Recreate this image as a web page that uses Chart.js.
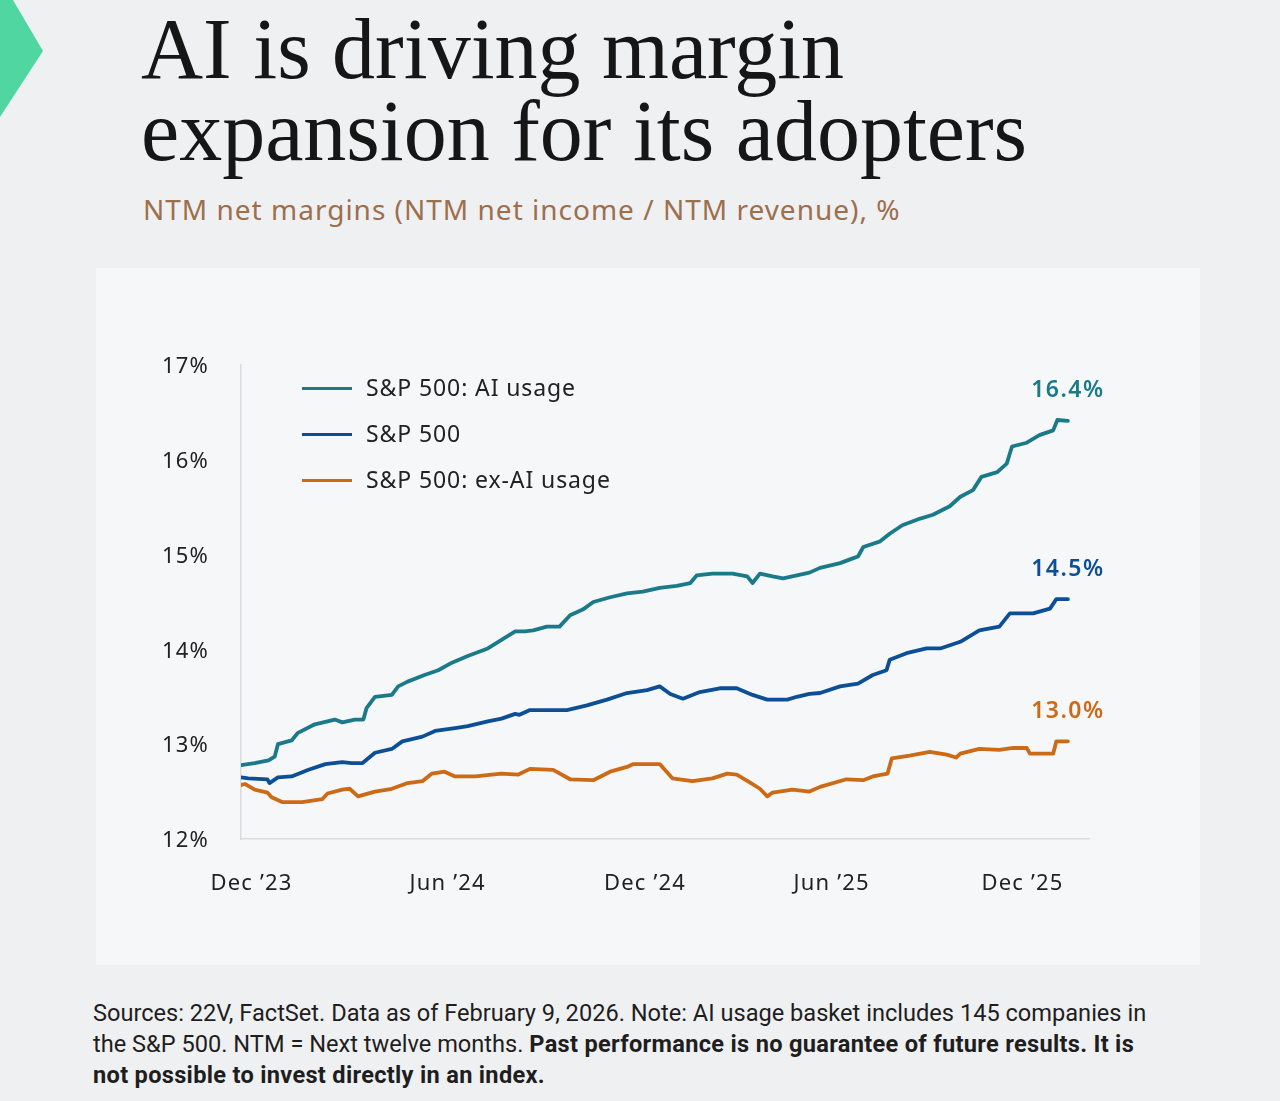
<!DOCTYPE html>
<html lang="en">
<head>
<meta charset="UTF-8">
<title>AI margin expansion</title>
<script src="https://cdn.jsdelivr.net/npm/chart.js@4.4.1/dist/chart.umd.min.js"></script>
<style>
  body { margin: 0; width: 1280px; height: 1101px; background: #eff0f2; position: relative; overflow: hidden; font-family: "Noto Sans", sans-serif; }
  .arrow { position: absolute; left: 0; top: 0; width: 46px; height: 118px; background: #50d7a1; clip-path: polygon(0 0, 13px 0, 43px 51px, 0 117px); }
  .title { position: absolute; left: 141px; top: 8px; font-family: "Liberation Serif", serif; font-size: 86px; line-height: 82px; color: #161616; margin: 0; font-weight: normal; }
  .subtitle { position: absolute; left: 143px; top: 190px; font-size: 28px; line-height: 38px; letter-spacing: 1px; color: #9c6f4d; }
  .panel { position: absolute; left: 96px; top: 268px; width: 1104px; height: 697px; background: #f6f7f9; }
  .legend { position: absolute; left: 302px; font-size: 23px; letter-spacing: 0.9px; color: #222; line-height: 30px; }
  .legend span { display: inline-block; width: 50px; height: 3px; vertical-align: middle; margin-right: 14px; position: relative; top: -1px; }
  .footer { position: absolute; left: 93px; top: 998px; font-family: "Roboto", sans-serif; font-size: 23.6px; line-height: 31px; color: #1e1e1e; }
  .footer b { font-weight: 700; letter-spacing: 0.3px; }
</style>
</head>
<body>
  <div class="arrow"></div>
  <h1 class="title">AI is driving margin<br>expansion for its adopters</h1>
  <div class="subtitle">NTM net margins (NTM net income / NTM revenue), %</div>

  <div class="panel">
    <canvas id="marginChart"></canvas>
  </div>

  <!-- legend -->
  <div class="legend" style="top:372px"><span style="background:#1a7a8a"></span>S&amp;P 500: AI usage</div>
  <div class="legend" style="top:418px"><span style="background:#0d4f96"></span>S&amp;P 500</div>
  <div class="legend" style="top:464px"><span style="background:#cc6a16"></span>S&amp;P 500: ex-AI usage</div>

  <div class="footer">Sources: 22V, FactSet. Data as of February 9, 2026. Note: AI usage basket includes 145 companies in<br>the S&amp;P 500. NTM = Next twelve months. <b>Past performance is no guarantee of future results. It is<br>not possible to invest directly in an index.</b></div>

<script>
// x values are days since the start of the series (late Nov 2023)
const seriesNames = ['S&P 500: AI usage', 'S&P 500', 'S&P 500: ex-AI usage'];
const seriesColors = ['#1a7a8a', '#0d4f96', '#cc6a16'];

const aiDays = [0, 13, 26, 32, 35, 48, 54, 70, 89, 96, 108, 116, 119, 127, 143, 149, 158, 174, 187, 200, 215, 234, 247, 260, 269, 277, 290, 302, 312, 324, 334, 350, 366, 381, 397, 413, 426, 432, 447, 466, 480, 485, 492, 504, 514, 527, 539, 549, 568, 580, 585, 590, 606, 615, 627, 644, 656, 672, 682, 694, 702, 717, 726, 731, 745, 757, 770, 774, 784];
const aiVals = [12.78, 12.80, 12.83, 12.87, 13.00, 13.04, 13.12, 13.21, 13.26, 13.23, 13.26, 13.26, 13.38, 13.50, 13.52, 13.61, 13.66, 13.73, 13.78, 13.86, 13.93, 14.01, 14.10, 14.19, 14.19, 14.20, 14.24, 14.24, 14.36, 14.42, 14.50, 14.55, 14.59, 14.61, 14.65, 14.67, 14.70, 14.78, 14.80, 14.80, 14.77, 14.70, 14.80, 14.77, 14.75, 14.78, 14.81, 14.86, 14.91, 14.96, 14.98, 15.08, 15.14, 15.22, 15.31, 15.38, 15.42, 15.51, 15.61, 15.68, 15.82, 15.87, 15.96, 16.14, 16.18, 16.26, 16.31, 16.42, 16.41];

const spDays = [0, 7, 25, 27, 35, 48, 64, 80, 96, 105, 115, 127, 143, 153, 172, 184, 203, 215, 234, 247, 260, 264, 274, 309, 328, 347, 366, 385, 397, 407, 419, 435, 454, 470, 485, 499, 518, 527, 539, 549, 568, 585, 599, 612, 615, 631, 650, 663, 682, 700, 719, 729, 751, 767, 773, 784];
const spVals = [12.65, 12.64, 12.63, 12.59, 12.65, 12.66, 12.73, 12.79, 12.81, 12.80, 12.80, 12.91, 12.95, 13.03, 13.08, 13.14, 13.17, 13.19, 13.24, 13.27, 13.32, 13.31, 13.36, 13.36, 13.41, 13.47, 13.54, 13.57, 13.61, 13.53, 13.48, 13.55, 13.59, 13.59, 13.52, 13.47, 13.47, 13.50, 13.53, 13.54, 13.61, 13.64, 13.73, 13.78, 13.89, 13.96, 14.01, 14.01, 14.08, 14.20, 14.24, 14.38, 14.38, 14.43, 14.53, 14.53];

const exDays = [0, 4, 13, 25, 29, 39, 58, 77, 82, 96, 103, 111, 127, 143, 158, 172, 181, 193, 203, 222, 247, 263, 274, 296, 312, 334, 350, 366, 372, 397, 409, 428, 447, 461, 470, 482, 492, 499, 504, 523, 539, 549, 574, 590, 599, 613, 617, 634, 653, 669, 678, 682, 700, 719, 732, 745, 748, 770, 773, 784];
const exVals = [12.57, 12.58, 12.52, 12.49, 12.44, 12.39, 12.39, 12.42, 12.48, 12.52, 12.53, 12.45, 12.50, 12.53, 12.59, 12.61, 12.69, 12.71, 12.66, 12.66, 12.69, 12.68, 12.74, 12.73, 12.63, 12.62, 12.71, 12.76, 12.79, 12.79, 12.64, 12.61, 12.64, 12.69, 12.68, 12.60, 12.53, 12.45, 12.49, 12.52, 12.50, 12.55, 12.63, 12.62, 12.66, 12.69, 12.85, 12.88, 12.92, 12.89, 12.86, 12.90, 12.95, 12.94, 12.96, 12.96, 12.90, 12.90, 13.03, 13.03];

const tickDays = [10, 196, 383, 560, 741];
const tickLabels = ['Dec \u201923', 'Jun \u201924', 'Dec \u201924', 'Jun \u201925', 'Dec \u201925'];

const yTicks = [12, 13, 14, 15, 16, 17];

function toPoints(days, vals) {
    return days.map((d, i) => ({ x: d, y: vals[i] }));
}

// a bit of tracking on the axis text, like the original
const spacingPlugin = {
    id: 'spacing',
    beforeDraw(chart) { chart.ctx.letterSpacing = '1.2px'; }
};

// value labels above the last point of each line
const endLabelPlugin = {
    id: 'endLabels',
    afterDatasetsDraw(chart) {
        const ctx = chart.ctx;
        ctx.save();
        ctx.letterSpacing = '1.5px';
        ctx.font = '600 23px "Noto Sans"';
        ctx.textAlign = 'center';
        ctx.textBaseline = 'middle';
        chart.data.datasets.forEach((ds, i) => {
            const meta = chart.getDatasetMeta(i);
            const pt = meta.data[meta.data.length - 1];
            const last = ds.data[ds.data.length - 1].y;
            ctx.fillStyle = ds.borderColor;
            ctx.fillText(last.toFixed(1) + '%', pt.x, pt.y - 30);
        });
        ctx.restore();
    }
};

const ctx = document.getElementById('marginChart').getContext('2d');
new Chart(ctx, {
    type: 'line',
    data: {
        datasets: [
            { label: seriesNames[0], data: toPoints(aiDays, aiVals), borderColor: seriesColors[0] },
            { label: seriesNames[1], data: toPoints(spDays, spVals), borderColor: seriesColors[1] },
            { label: seriesNames[2], data: toPoints(exDays, exVals), borderColor: seriesColors[2] }
        ]
    },
    options: {
        responsive: true,
        maintainAspectRatio: false,
        animation: false,
        elements: {
            line: { borderWidth: 3.8, tension: 0, borderJoinStyle: 'round', borderCapStyle: 'round' },
            point: { radius: 0 }
        },
        layout: { padding: { top: 97, right: 111, left: 0, bottom: 0 } },
        plugins: {
            legend: { display: false },
            tooltip: { enabled: false }
        },
        scales: {
            x: {
                type: 'linear',
                min: 0,
                max: 804,
                grid: { display: false, drawTicks: false },
                border: { display: true, color: '#d8dbdf', width: 1.5 },
                afterBuildTicks: axis => { axis.ticks = tickDays.map(v => ({ value: v })); },
                afterFit: axis => { axis.height = 126; },
                ticks: {
                    autoSkip: false,
                    maxRotation: 0,
                    padding: 32,
                    color: '#222',
                    font: { family: 'Noto Sans', size: 22 },
                    callback: v => tickLabels[tickDays.indexOf(v)]
                }
            },
            y: {
                min: 12,
                max: 17,
                grid: { display: false, drawTicks: false },
                border: { display: true, color: '#d8dbdf', width: 1.5 },
                afterBuildTicks: axis => { axis.ticks = yTicks.map(v => ({ value: v })); },
                afterFit: axis => { axis.width = 145; },
                ticks: {
                    padding: 32,
                    labelOffset: 2,
                    color: '#222',
                    font: { family: 'Noto Sans', size: 22 },
                    callback: v => v + '%'
                }
            }
        }
    },
    plugins: [spacingPlugin, endLabelPlugin]
});
</script>
</body>
</html>
